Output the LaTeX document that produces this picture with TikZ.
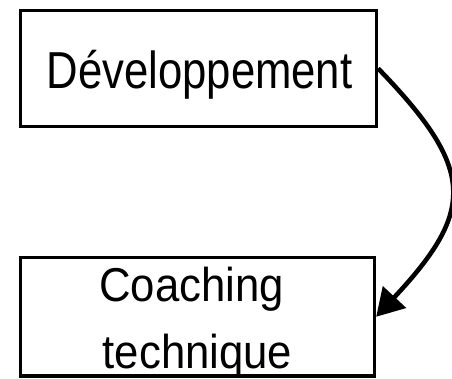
\documentclass[tikz,border=0pt]{standalone}
\usepackage{fontspec}
\setmainfont{Liberation Sans}
\usetikzlibrary{arrows.meta}
\begin{document}
\begin{tikzpicture}[x=1pt,y=1pt,
  stagebox/.style={draw=black,line width=3.3pt,inner sep=0pt,fill=white},
  toptext/.style={anchor=base,inner sep=0pt,font=\fontsize{52}{62}\selectfont},
  bottext/.style={anchor=base,inner sep=0pt,font=\fontsize{47.5}{67}\selectfont},
  flow/.style={line width=4.6pt,-{Triangle[length=27pt,width=31pt]}}]
  \useasboundingbox (0,0) rectangle (452,-378);
  % stage boxes
  \node[stagebox,minimum width=356pt,minimum height=116pt] (dev) at (198.5,-68.5) {};
  \node[stagebox,minimum width=354pt,minimum height=118.5pt] (coach) at (197.5,-316.75) {};
  % labels
  \node[toptext] (devtxt) at (199.5,-88) {\scalebox{0.84}[1]{Développement}};
  \node[bottext] (coachtxt1) at (191.5,-301) {\scalebox{0.92}[1]{Coaching}};
  \node[bottext] (coachtxt2) at (197.5,-368) {\scalebox{0.92}[1]{technique}};
  % curved connector
  \draw[flow] (dev.east) .. controls +(98,-101) and +(99,106) .. (coach.east);
\end{tikzpicture}
\end{document}
